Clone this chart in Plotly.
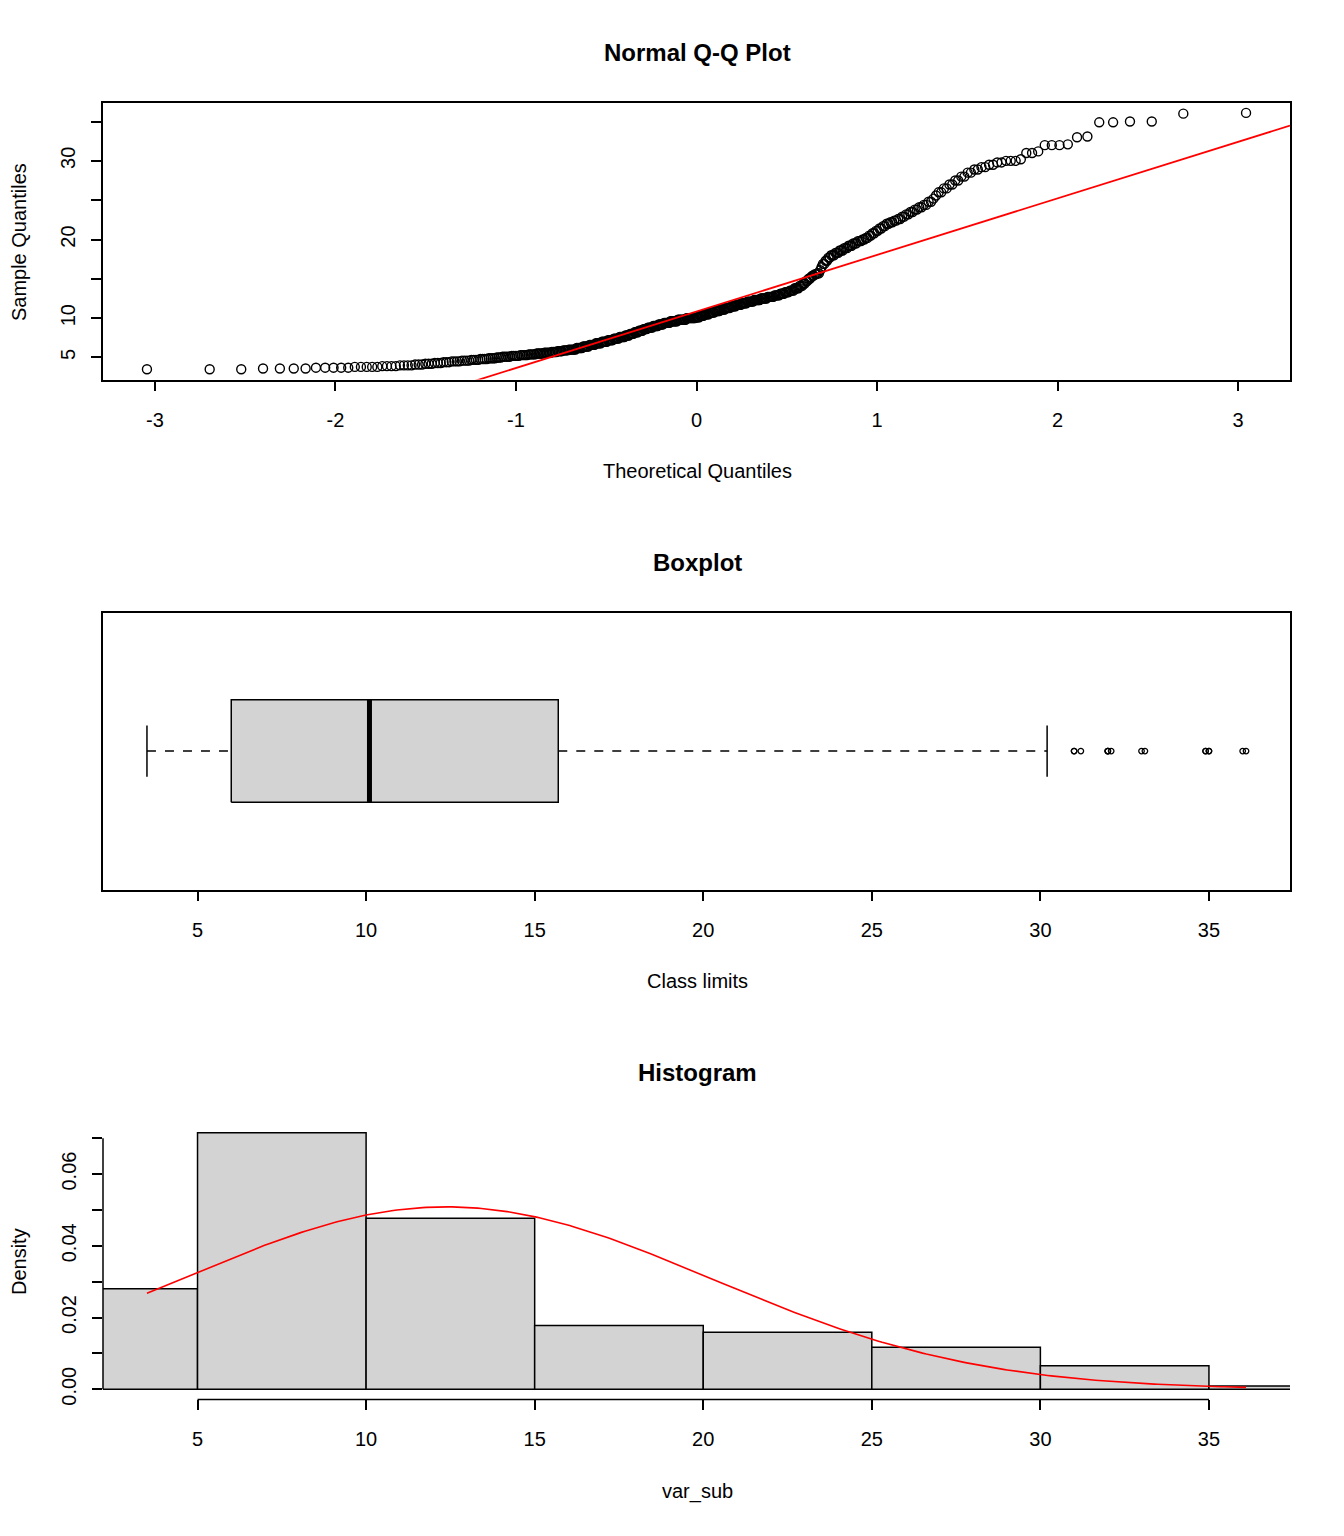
import statistics
import numpy as np
import plotly.graph_objects as go

values = [
    3.5, 3.6, 3.7, 3.8, 3.9, 4.0, 4.1, 4.2, 4.3, 4.4, 4.5, 4.6, 4.7, 4.8, 4.9, 5.0,
    5.1, 5.2, 5.3, 5.4, 5.5, 5.6, 5.7, 5.8, 5.9, 6.0, 6.2, 6.4, 6.6, 6.8, 7.0, 7.2,
    7.4, 7.6, 7.8, 8.0, 8.2, 8.4, 8.6, 8.8, 9.0, 9.2, 9.4, 9.6, 9.8, 10.0,
    10.1, 10.3, 10.5, 10.7, 10.9, 11.1, 11.3, 11.5, 11.7, 11.9, 12.1, 12.3, 12.5,
    12.7, 12.9, 13.1, 13.3, 13.5, 13.8, 14.1, 14.4, 14.7, 15.0,
    15.2, 15.4, 15.6, 15.7, 16.1, 16.5, 16.9, 17.3, 17.7, 18.0, 18.3, 18.6, 18.9,
    19.2, 19.5, 19.8, 20.0,
    20.2, 20.5, 20.8, 21.1, 21.4, 21.7, 22.0, 22.2, 22.4, 22.6, 22.9, 23.2, 23.5,
    23.8, 24.1, 24.4, 24.8,
    25.2, 25.6, 26.0, 26.5, 27.0, 27.5, 28.0, 28.5, 28.9, 29.2, 29.5, 29.8, 30.0,
    30.2, 31.0, 31.2, 32.0, 32.1, 33.0, 33.1, 34.9, 35.0,
    36.0, 36.1,
]
counts = [
    3, 4, 5, 5, 4, 4, 3, 3, 3, 3, 4, 4, 4, 4, 4, 3,
    5, 5, 5, 5, 5, 5, 4, 4, 4, 6, 5, 5, 5, 5, 5, 5,
    5, 5, 4, 4, 4, 4, 4, 5, 5, 5, 6, 7, 8, 9,
    4, 4, 5, 5, 5, 5, 5, 5, 5, 5, 6, 6, 6,
    6, 5, 4, 4, 4, 4, 3, 2, 2, 2,
    1, 2, 2, 2, 1, 1, 2, 2, 2, 3, 3, 3, 3,
    3, 3, 3, 2,
    2, 2, 2, 2, 2, 2, 2, 2, 2, 2, 2, 2, 2,
    2, 2, 2, 2,
    1, 1, 2, 2, 2, 2, 2, 2, 2, 2, 2, 2, 3,
    1, 2, 1, 3, 1, 1, 1, 2, 2,
    1, 1,
]

bin_edges = [0, 5, 10, 15, 20, 25, 30, 35, 40]
qq_x_ticks = [-3, -2, -1, 0, 1, 2, 3]
qq_x_labels = ["-3", "-2", "-1", "0", "1", "2", "3"]
qq_y_ticks = [5, 10, 15, 20, 25, 30, 35]
qq_y_labels = ["5", "10", "", "20", "", "30", ""]
class_ticks = [5, 10, 15, 20, 25, 30, 35]
dens_ticks = [0.0, 0.01, 0.02, 0.03, 0.04, 0.05, 0.06, 0.07]
dens_labels = ["0.00", "", "0.02", "", "0.04", "", "0.06", ""]

# the page body keeps an 8px margin all round, so the figure sits at (8, 8)
OFF = 8
W, H = 1344 - 2 * OFF, 1536 - 2 * OFF
FONT = "Liberation Sans, Arial, sans-serif"


def px(x):
    return (x - OFF) / W


def py(y):
    return 1 - (y - OFF) / H


def r_range(lo, hi):
    d = 0.04 * (hi - lo)
    return [lo - d, hi + d]


var_sub = np.repeat(np.array(values), counts)
srt = np.sort(var_sub)
n = len(srt)
nd = statistics.NormalDist()

# Q-Q
theo = np.array([nd.inv_cdf((i - 0.5) / n) for i in range(1, n + 1)])
qx_rng = r_range(theo.min(), theo.max())
qy_rng = r_range(srt.min(), srt.max())
q1, q3 = np.percentile(var_sub, [25, 75])
z1, z3 = nd.inv_cdf(0.25), nd.inv_cdf(0.75)
slope = (q3 - q1) / (z3 - z1)
inter = q1 - slope * z1

# boxplot stats (fivenum hinges, 1.5 IQR)
n4 = np.floor((n + 3) / 2) / 2
pos = [1, n4, (n + 1) / 2, n + 1 - n4, n]
five = [0.5 * (srt[int(np.floor(d)) - 1] + srt[int(np.ceil(d)) - 1]) for d in pos]
iqr = five[3] - five[1]
inside = srt[(srt >= five[1] - 1.5 * iqr) & (srt <= five[3] + 1.5 * iqr)]
w_lo, w_hi = inside.min(), inside.max()
outl = srt[(srt < w_lo) | (srt > w_hi)]

# histogram (right-closed bins like R)
edges = np.array(bin_edges, dtype=float)
idx = np.searchsorted(edges, var_sub, side="left") - 1
hcounts = np.bincount(idx, minlength=len(edges) - 1)
dens = hcounts / (n * np.diff(edges))
mids = (edges[:-1] + edges[1:]) / 2
mu = var_sub.mean()
sd = var_sub.std(ddof=1)
cx = np.linspace(srt.min(), srt.max(), 300)
cy = [statistics.NormalDist(mu, sd).pdf(v) for v in cx]

fig = go.Figure()

fig.add_trace(go.Scatter(x=theo, y=srt, mode="markers", xaxis="x", yaxis="y",
                         marker=dict(symbol="circle-open", size=9, color="black",
                                     line=dict(width=1.4, color="black"))))
fig.add_trace(go.Scatter(x=qx_rng, y=[inter + slope * v for v in qx_rng], mode="lines",
                         xaxis="x", yaxis="y", line=dict(color="red", width=1.8)))

# boxplot pieces
fig.add_trace(go.Scatter(x=[w_lo, five[1]], y=[1, 1], mode="lines", xaxis="x2", yaxis="y2",
                         line=dict(color="black", width=1.5, dash="dash")))
fig.add_trace(go.Scatter(x=[five[3], w_hi], y=[1, 1], mode="lines", xaxis="x2", yaxis="y2",
                         line=dict(color="black", width=1.5, dash="dash")))
for w in (w_lo, w_hi):
    fig.add_trace(go.Scatter(x=[w, w], y=[0.9, 1.1], mode="lines", xaxis="x2", yaxis="y2",
                             line=dict(color="black", width=1.5)))
fig.add_trace(go.Scatter(x=[five[1], five[3], five[3], five[1], five[1]],
                         y=[0.8, 0.8, 1.2, 1.2, 0.8], mode="lines", fill="toself",
                         fillcolor="#D3D3D3", xaxis="x2", yaxis="y2",
                         line=dict(color="black", width=1.5)))
fig.add_trace(go.Scatter(x=[five[2], five[2]], y=[0.8, 1.2], mode="lines", xaxis="x2", yaxis="y2",
                         line=dict(color="black", width=5)))
fig.add_trace(go.Scatter(x=outl, y=np.ones(len(outl)), mode="markers", xaxis="x2", yaxis="y2",
                         marker=dict(symbol="circle-open", size=5.5, color="black",
                                     line=dict(width=1.3, color="black"))))

# histogram
fig.add_trace(go.Bar(x=mids, y=dens, width=np.diff(edges), xaxis="x3", yaxis="y3",
                     marker=dict(color="#D3D3D3", line=dict(color="black", width=1.5))))
fig.add_trace(go.Scatter(x=cx, y=cy, mode="lines", xaxis="x3", yaxis="y3",
                         line=dict(color="red", width=1.6)))

dom_x = [px(103), px(1290)]
tickfont = dict(family=FONT, size=20, color="black")
common = dict(showgrid=False, zeroline=False, ticks="outside", ticklen=10, tickwidth=1.5,
              tickcolor="black", tickfont=tickfont)
boxed = dict(showline=True, mirror=True, linecolor="black", linewidth=1.5)

fig.update_layout(
    width=W, height=H, margin=dict(l=0, r=0, t=0, b=0),
    paper_bgcolor="white", plot_bgcolor="white", showlegend=False,
    xaxis=dict(domain=dom_x, anchor="y", range=qx_rng, tickvals=qq_x_ticks,
               ticktext=qq_x_labels, ticklabelstandoff=12, **common, **boxed),
    yaxis=dict(domain=[py(381), py(103)], anchor="x", range=qy_rng, tickvals=qq_y_ticks,
               ticktext=qq_y_labels, tickangle=-90, ticklabelstandoff=8, **common, **boxed),
    xaxis2=dict(domain=dom_x, anchor="y2", range=r_range(srt.min(), srt.max()),
                tickvals=class_ticks, ticklabelstandoff=12, **common, **boxed),
    yaxis2=dict(domain=[py(893), py(615)], anchor="x2", range=[0.46, 1.54],
                showticklabels=False, showgrid=False, zeroline=False, ticks="", **boxed),
    xaxis3=dict(domain=dom_x, anchor="y3", range=r_range(srt.min(), srt.max()),
                tickvals=class_ticks, ticklabelstandoff=12, showline=False, **common),
    yaxis3=dict(domain=[py(1405), py(1127)], anchor="x3",
                range=[-0.04 * dens.max(), 1.04 * dens.max()], tickvals=dens_ticks,
                ticktext=dens_labels, tickangle=-90, ticklabelstandoff=8, showline=False,
                **common),
    shapes=[
        dict(type="line", xref="x3", yref="y3 domain", x0=class_ticks[0], x1=class_ticks[-1],
             y0=0, y1=0, line=dict(color="black", width=1.5)),
        dict(type="line", xref="x3 domain", yref="y3", x0=0, x1=0, y0=dens_ticks[0],
             y1=dens_ticks[-1], line=dict(color="black", width=1.5)),
    ],
)

titles = [("Normal Q-Q Plot", 53), ("Boxplot", 565), ("Histogram", 1077)]
xlabels = [("Theoretical Quantiles", 473), ("Class limits", 985), ("var_sub", 1497)]
ylabels = [("Sample Quantiles", 243), ("Density", 1267)]
ann = []
for t, y in titles:
    ann.append(dict(text="<b>%s</b>" % t, x=px(697), y=py(y), xref="paper", yref="paper",
                    showarrow=False, font=dict(family=FONT, size=24, color="black"),
                    xanchor="center", yanchor="middle"))
for t, y in xlabels:
    ann.append(dict(text=t, x=px(697), y=py(y), xref="paper", yref="paper", showarrow=False,
                    font=dict(family=FONT, size=20, color="black"),
                    xanchor="center", yanchor="middle"))
for t, y in ylabels:
    ann.append(dict(text=t, x=px(19), y=py(y), xref="paper", yref="paper", showarrow=False,
                    textangle=-90, borderpad=0, font=dict(family=FONT, size=20, color="black"),
                    xanchor="center", yanchor="middle"))
fig.update_layout(annotations=ann)

fig.write_html("out.html")
